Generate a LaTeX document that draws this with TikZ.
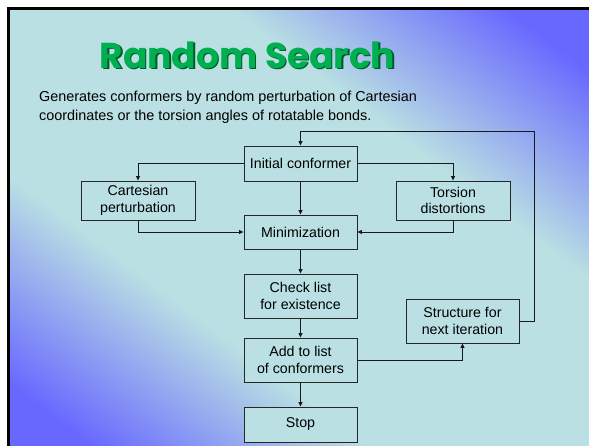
\documentclass[tikz,border=0pt]{standalone}
\usepackage{fontspec}
\setmainfont{Liberation Sans}
\newfontfamily\titlefont{Poppins}
\usetikzlibrary{arrows.meta}
\definecolor{bgblue}{RGB}{104,104,255}
\definecolor{bgcyan}{RGB}{186,224,227}
\definecolor{boxfill}{RGB}{186,224,227}
\definecolor{titlegreen}{RGB}{0,176,80}
\definecolor{titleshadow}{RGB}{0,90,40}
\pgfdeclarehorizontalshading{slidebg}{100bp}{color(0bp)=(bgblue); color(28.5bp)=(bgblue); color(40.5bp)=(bgcyan); color(59.5bp)=(bgcyan); color(71.5bp)=(bgblue); color(100bp)=(bgblue)}
\tikzset{
  flowbox/.style={draw=black!85, line width=0.9pt, fill=boxfill, align=center,
    font=\fontsize{14.2}{16.5}\selectfont, inner sep=0pt},
  arr/.style={draw=black!90, line width=0.8pt, -{Triangle[length=4.5pt,width=4pt]}},
}
\begin{document}
\begin{tikzpicture}[x=1pt,y=-1pt]
\useasboundingbox (0,0) rectangle (589,446);
\fill[white] (-5,-5) rectangle (600,460);
\begin{scope}
\clip (10,10) rectangle (600,460);
\fill[bgblue] (10,10) rectangle (600,460);
\begin{scope}[transform canvas={cm={2.895,2.18,5.79,-4.36,(299.5pt,-228pt)}}]
\shade[shading=slidebg] (-100,-70) rectangle (100,70);
\end{scope}
\end{scope}
\fill[black] (7,7) rectangle (10,460);
\fill[black] (7,7) rectangle (600,10);
% title
\node[text=titleshadow, font=\titlefont\bfseries\fontsize{36}{38}\selectfont] at (249,56.5) {Random Search};
\node[text=titlegreen, font=\titlefont\bfseries\fontsize{36}{38}\selectfont] (title) at (247.5,55) {Random Search};
% body text
\node[anchor=north west, inner sep=0pt, align=left, font=\fontsize{14.4}{19}\selectfont] (body) at (39,90.5)
  {Generates conformers by random perturbation of Cartesian\\coordinates or the torsion angles of rotatable bonds.};
% boxes
\node[flowbox, minimum width=113pt, minimum height=35pt] (init) at (300.5,163.5) {Initial conformer};
\node[flowbox, minimum width=114pt, minimum height=39pt] (cart) at (138,200.5) {Cartesian\\perturbation};
\node[flowbox, minimum width=114pt, minimum height=39pt] (tors) at (453,200.5) {Torsion\\distortions};
\node[flowbox, minimum width=113pt, minimum height=34pt] (mini) at (300.5,232) {Minimization};
\node[flowbox, minimum width=113pt, minimum height=44pt] (check) at (300.5,296) {Check list\\for existence};
\node[flowbox, minimum width=113pt, minimum height=44pt] (struct) at (462.5,321) {Structure for\\next iteration};
\node[flowbox, minimum width=113pt, minimum height=44pt] (add) at (300.5,360) {Add to list\\of conformers};
\node[flowbox, minimum width=113pt, minimum height=35pt] (stop) at (300.5,424.5) {Stop};
% connectors
\draw[arr] (init.west) -| (cart.north);
\draw[arr] (init.east) -| (tors.north);
\draw[arr] (init) -- (mini);
\draw[arr] (cart.south) |- (mini.west);
\draw[arr] (tors.south) |- (mini.east);
\draw[arr] (mini) -- (check);
\draw[arr] (check) -- (add);
\draw[arr] (add) -- (stop);
\draw[arr] (add.east) -| (struct.south);
\coordinate (loopcorner) at (534,131);
\draw[arr] (struct.east) -| (loopcorner) -| (init.north);
\end{tikzpicture}
\end{document}
